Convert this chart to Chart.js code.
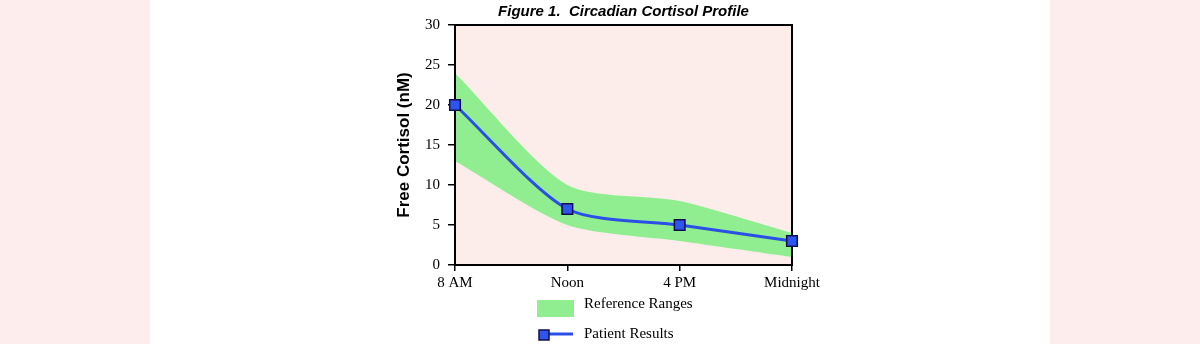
<!DOCTYPE html>
<html>
<head>
<meta charset="utf-8">
<title>Circadian Cortisol Profile</title>
<script src="https://cdn.jsdelivr.net/npm/chart.js@4"></script>
<style>
  html, body { margin: 0; padding: 0; }
  body { background: #fdeeed; width: 1200px; height: 344px; overflow: hidden; }
  .page { position: absolute; left: 150px; top: 0; width: 900px; height: 344px; background: #ffffff; }
</style>
</head>
<body>
<div class="page"><canvas id="cortisolChart" width="900" height="344"></canvas></div>
<script>
// --- data ---
const timePoints = ['8 AM', 'Noon', '4 PM', 'Midnight'];
const refLow = [13, 5, 3, 1];
const refHigh = [24, 10, 8, 4];
const patientResults = [20, 7, 5, 3];

const SERIF = '"Liberation Serif", "Times New Roman", serif';
const SANS = '"Liberation Sans", Arial, sans-serif';
const SMOOTH = 0.25;

// pink plot area, frame, title and legend
const figureDecor = {
    id: 'figureDecor',
    beforeDraw(chart) {
        const { ctx, chartArea: a } = chart;
        ctx.save();
        ctx.fillStyle = '#fcedeb';
        ctx.fillRect(a.left, a.top, a.right - a.left, a.bottom - a.top);
        ctx.restore();
    },
    afterDatasetDraw(chart, args) {
        if (args.index !== 1) return;
        const { ctx, chartArea: a } = chart;
        ctx.save();
        ctx.strokeStyle = '#000';
        ctx.lineWidth = 2;
        ctx.strokeRect(a.left, a.top, a.right - a.left, a.bottom - a.top);
        ctx.restore();
    },
    afterDraw(chart) {
        const { ctx, chartArea: a } = chart;
        ctx.save();
        // title
        ctx.fillStyle = '#000';
        ctx.font = 'italic bold 15px ' + SANS;
        ctx.textAlign = 'center';
        ctx.textBaseline = 'middle';
        ctx.fillText('Figure 1.  Circadian Cortisol Profile', (a.left + a.right) / 2, 12);

        // legend
        const lx = a.left + 82;
        ctx.fillStyle = '#90ee90';
        ctx.fillRect(lx, 300, 37, 17);
        ctx.strokeStyle = '#2b4fe6';
        ctx.lineWidth = 3;
        ctx.beginPath();
        ctx.moveTo(lx + 8, 334);
        ctx.lineTo(lx + 36, 334);
        ctx.stroke();
        ctx.fillStyle = '#2f55f0';
        ctx.strokeStyle = '#10104a';
        ctx.lineWidth = 1.5;
        ctx.fillRect(lx + 2, 330, 10, 10);
        ctx.strokeRect(lx + 2, 330, 10, 10);

        ctx.fillStyle = '#000';
        ctx.font = '15px ' + SERIF;
        ctx.textAlign = 'left';
        ctx.fillText('Reference Ranges', lx + 47, 304);
        ctx.fillText('Patient Results', lx + 47, 334);
        ctx.restore();
    }
};

new Chart(document.getElementById('cortisolChart'), {
    type: 'line',
    data: {
        labels: timePoints,
        datasets: [
            {
                label: 'Reference low',
                data: refLow,
                borderWidth: 0,
                pointRadius: 0,
                fill: false,
                tension: SMOOTH,
                order: 2
            },
            {
                label: 'Reference Ranges',
                data: refHigh,
                borderWidth: 0,
                pointRadius: 0,
                backgroundColor: '#90ee90',
                fill: '-1',
                tension: SMOOTH,
                order: 1
            },
            {
                label: 'Patient Results',
                data: patientResults,
                borderColor: '#2b4fe6',
                borderWidth: 3,
                pointStyle: 'rect',
                pointRadius: 7.5,
                pointBackgroundColor: '#2f55f0',
                pointBorderColor: '#10104a',
                pointBorderWidth: 1.5,
                tension: SMOOTH,
                clip: false,
                order: 0
            }
        ]
    },
    options: {
        responsive: false,
        animation: false,
        layout: { padding: { left: 240, right: 258, top: 25, bottom: 0 } },
        plugins: {
            legend: { display: false },
            tooltip: { enabled: false },
            title: { display: false }
        },
        scales: {
            x: {
                offset: false,
                border: { display: false },
                grid: { drawOnChartArea: false, color: '#000', lineWidth: 1.5, tickLength: 6 },
                ticks: { color: '#000', font: { family: SERIF, size: 15 }, padding: 3, maxRotation: 0 },
                afterFit(scale) { scale.height = 79; }
            },
            y: {
                min: 0,
                max: 30,
                border: { display: false },
                grid: { drawOnChartArea: false, color: '#000', lineWidth: 1.5, tickLength: 7 },
                ticks: { stepSize: 5, color: '#000', font: { family: SERIF, size: 15 }, padding: 8 },
                title: {
                    display: true,
                    text: 'Free Cortisol (nM)',
                    color: '#000',
                    font: { family: SANS, size: 17, weight: 'bold' },
                    padding: { top: 4, bottom: 0 }
                },
                afterFit(scale) { scale.width = 65; }
            }
        }
    },
    plugins: [figureDecor]
});
</script>
</body>
</html>
